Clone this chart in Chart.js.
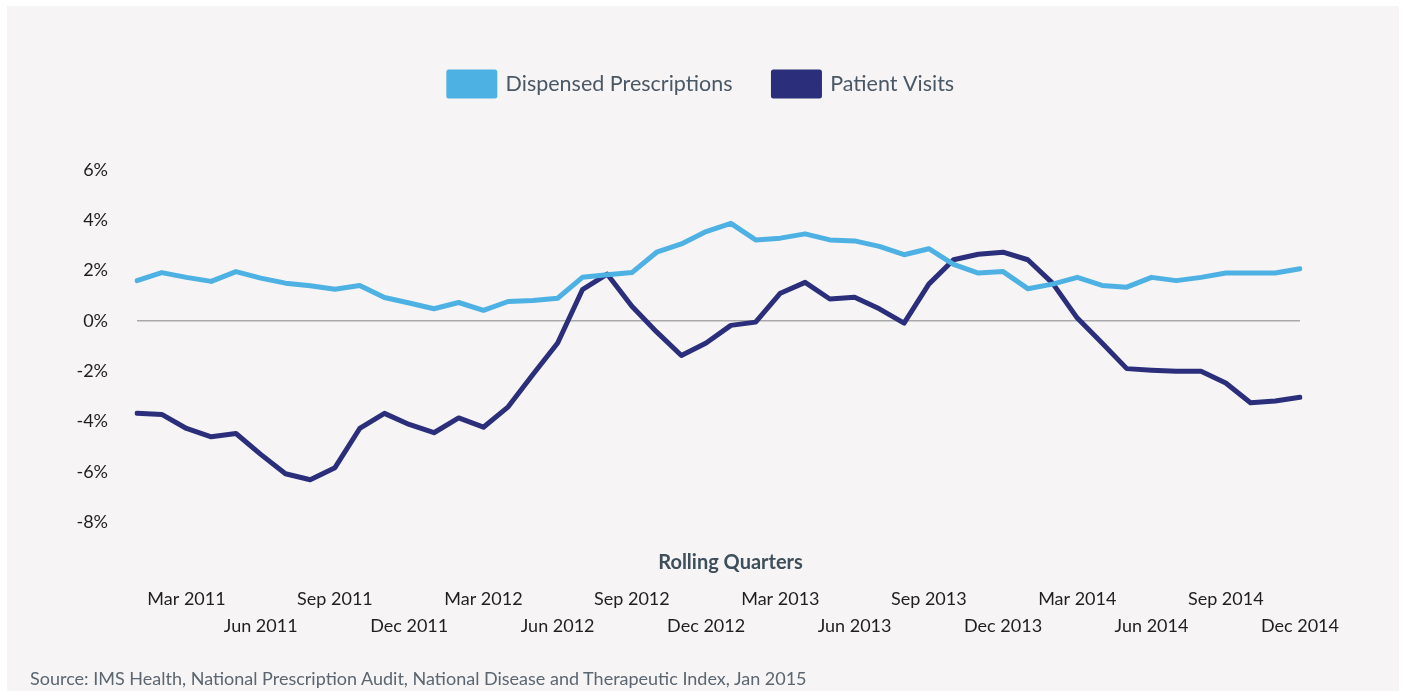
<!DOCTYPE html>
<html>
<head>
<meta charset="utf-8">
<script src="https://cdn.jsdelivr.net/npm/chart.js@4.4.1/dist/chart.umd.min.js"></script>
<style>
  html, body { margin: 0; padding: 0; background: #ffffff; width: 1403px; height: 691px; overflow: hidden; }
  #panel { position: absolute; left: 7px; top: 6px; width: 1392px; height: 685px; background: #f6f4f5; }
  #c { position: absolute; left: 0; top: 0; }
  #source { position: absolute; left: 30px; top: 667px; font-family: Lato, sans-serif; font-size: 18px; color: #5b6670; white-space: nowrap; }
</style>
</head>
<body>
<div id="panel"></div>
<canvas id="c" width="1403" height="691"></canvas>
<div id="source">Source: IMS Health, National Prescription Audit, National Disease and Therapeutic Index, Jan 2015</div>
<script>
const months = [
  'Jan 2011','Feb 2011','Mar 2011','Apr 2011','May 2011','Jun 2011','Jul 2011','Aug 2011','Sep 2011','Oct 2011','Nov 2011','Dec 2011',
  'Jan 2012','Feb 2012','Mar 2012','Apr 2012','May 2012','Jun 2012','Jul 2012','Aug 2012','Sep 2012','Oct 2012','Nov 2012','Dec 2012',
  'Jan 2013','Feb 2013','Mar 2013','Apr 2013','May 2013','Jun 2013','Jul 2013','Aug 2013','Sep 2013','Oct 2013','Nov 2013','Dec 2013',
  'Jan 2014','Feb 2014','Mar 2014','Apr 2014','May 2014','Jun 2014','Jul 2014','Aug 2014','Sep 2014','Oct 2014','Nov 2014','Dec 2014'
];
const dispensedPrescriptions = [
  1.60, 1.92, 1.73, 1.57, 1.96, 1.70, 1.50, 1.40, 1.26, 1.41, 0.93, 0.71,
  0.48, 0.73, 0.42, 0.77, 0.81, 0.90, 1.73, 1.83, 1.92, 2.73, 3.06, 3.55,
  3.88, 3.22, 3.29, 3.46, 3.22, 3.18, 2.96, 2.63, 2.87, 2.25, 1.90, 1.96,
  1.28, 1.46, 1.73, 1.41, 1.34, 1.73, 1.60, 1.73, 1.90, 1.90, 1.90, 2.07
];
const patientVisits = [
  -3.67, -3.72, -4.28, -4.61, -4.48, -5.31, -6.08, -6.32, -5.84, -4.28, -3.68, -4.12,
  -4.45, -3.86, -4.23, -3.42, -2.13, -0.88, 1.24, 1.86, 0.58, -0.44, -1.38, -0.88,
  -0.18, -0.05, 1.10, 1.53, 0.87, 0.94, 0.48, -0.09, 1.46, 2.43, 2.65, 2.73,
  2.43, 1.50, 0.11, -0.88, -1.90, -1.96, -2.00, -2.00, -2.47, -3.26, -3.19, -3.04
];
const yMin = -8, yMax = 6, yStep = 2;
const seriesNames = ['Dispensed Prescriptions', 'Patient Visits'];
const xAxisTitle = 'Rolling Quarters';

const axisTitlePlugin = {
  id: 'axisTitleAbove',
  afterDraw(chart) {
    const {ctx, chartArea} = chart;
    ctx.save();
    ctx.font = 'bold 20px Lato, sans-serif';
    ctx.fillStyle = '#3e4f5b';
    ctx.textAlign = 'center';
    ctx.textBaseline = 'middle';
    ctx.fillText(xAxisTitle, (chartArea.left + chartArea.right) / 2 + 12, chartArea.bottom + 41);
    ctx.restore();
  }
};

new Chart(document.getElementById('c'), {
  type: 'line',
  data: {
    labels: months,
    datasets: [
      {
        label: seriesNames[0],
        data: dispensedPrescriptions,
        borderColor: '#4eb1e3',
        backgroundColor: '#4eb1e3',
        borderWidth: 5,
        pointRadius: 0,
        tension: 0,
        borderJoinStyle: 'round',
        borderCapStyle: 'round'
      },
      {
        label: seriesNames[1],
        data: patientVisits,
        borderColor: '#2b2f7b',
        backgroundColor: '#2b2f7b',
        borderWidth: 5,
        pointRadius: 0,
        tension: 0,
        borderJoinStyle: 'round',
        borderCapStyle: 'round'
      }
    ]
  },
  options: {
    responsive: false,
    animation: false,
    layout: { padding: { left: 0, right: 0, top: 31, bottom: 30 } },
    plugins: {
      legend: {
        display: true,
        position: 'top',
        align: 'center',
        weight: 3000,
        labels: {
          boxWidth: 46,
          boxHeight: 24,
          padding: 41,
          color: '#4a5865',
          font: { family: 'Lato, sans-serif', size: 21.5 }
        }
      },
      title: {
        display: true,
        text: '',
        padding: { top: 0, bottom: 52 },
        font: { size: 10 }
      },
      tooltip: { enabled: false }
    },
    scales: {
      x: {
        type: 'category',
        offset: false,
        grid: { display: false, drawTicks: false },
        border: { display: false },
        ticks: {
          autoSkip: false,
          maxRotation: 0,
          minRotation: 0,
          padding: 64,
          color: '#1f1f1f',
          font: { family: 'Lato, sans-serif', size: 18, lineHeight: 1.5 },
          callback: function (value, index) {
            if (index % 3 !== 2) return null;
            const q = (index - 2) / 3;
            const lbl = this.getLabelForValue(value);
            return q % 2 === 0 ? [lbl, ''] : ['', lbl];
          }
        },
        afterFit(scale) { scale.height = 139; }
      },
      y: {
        min: yMin,
        max: yMax,
        grid: {
          drawTicks: false,
          lineWidth: 1.5,
          color: (c) => (c.tick && c.tick.value === 0 ? '#a9a9a9' : 'rgba(0,0,0,0)')
        },
        border: { display: false },
        ticks: {
          stepSize: yStep,
          padding: 29,
          color: '#1f1f1f',
          font: { family: 'Lato, sans-serif', size: 18 },
          callback: (v) => v + '%'
        },
        afterFit(scale) { scale.width = 137; }
      },
      yRight: {
        position: 'right',
        display: true,
        min: yMin,
        max: yMax,
        grid: { display: false, drawTicks: false },
        border: { display: false },
        ticks: { display: false },
        afterFit(scale) { scale.width = 103; }
      }
    }
  },
  plugins: [axisTitlePlugin]
});
</script>
</body>
</html>
